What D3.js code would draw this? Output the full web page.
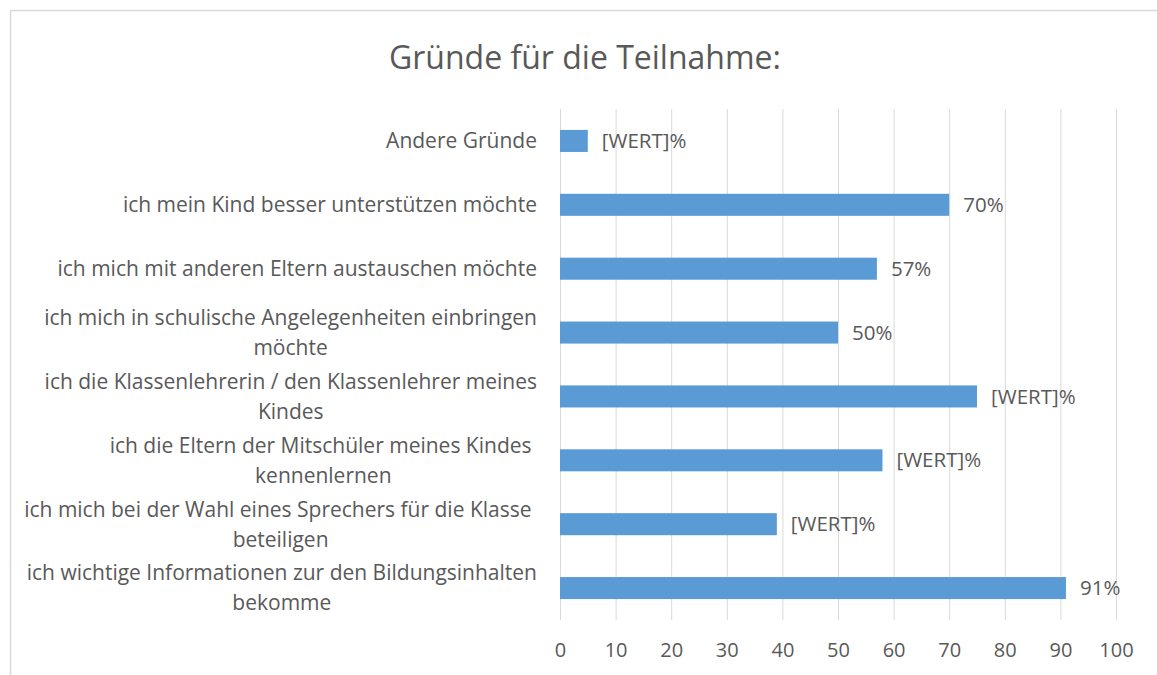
<!DOCTYPE html>
<html>
<head>
<meta charset="utf-8">
<script src="https://cdn.jsdelivr.net/npm/d3@7"></script>
<style>
  body { margin: 0; background: #fff; }
  text { font-family: "Open Sans", sans-serif; fill: #595959; }
</style>
</head>
<body>
<div id="chart"></div>
<script>
// chart data, top to bottom
var categories = [
    ["Andere Gründe"],
    ["ich mein Kind besser unterstützen möchte"],
    ["ich mich mit anderen Eltern austauschen möchte"],
    ["ich mich in schulische Angelegenheiten einbringen", "möchte"],
    ["ich die Klassenlehrerin / den Klassenlehrer meines", "Kindes"],
    ["ich die Eltern der Mitschüler meines Kindes ", "kennenlernen"],
    ["ich mich bei der Wahl eines Sprechers für die Klasse ", "beteiligen"],
    ["ich wichtige Informationen zur den Bildungsinhalten", "bekomme"]
];
var values = [5, 70, 57, 50, 75, 58, 39, 91];
var valueLabels = ["[WERT]%", "70%", "57%", "50%", "[WERT]%", "[WERT]%", "[WERT]%", "91%"];
var xTicks = [0, 10, 20, 30, 40, 50, 60, 70, 80, 90, 100];
var title = "Gründe für die Teilnahme:";

var W = 1157, H = 675;
var svg = d3.select("#chart")
    .append("svg")
    .attr("width", W)
    .attr("height", H);

// chart frame
svg.append("rect")
    .attr("x", 10.5).attr("y", 10.5)
    .attr("width", W).attr("height", H)
    .attr("fill", "#fff")
    .attr("stroke", "#d9d9d9")
    .attr("stroke-width", 1.5);

svg.append("text")
    .attr("x", 585).attr("y", 69)
    .attr("text-anchor", "middle")
    .style("font-size", "32px")
    .text(title);

var x = d3.scaleLinear().domain([0, 100]).range([560, 1116]);
var y = d3.scaleBand()
    .domain(d3.range(categories.length))
    .range([109, 620])
    .paddingInner(0.655)
    .paddingOuter(0.3275);

// gridlines
svg.append("g").selectAll("line")
    .data(xTicks)
    .join("line")
    .attr("x1", d => x(d) + 0.5).attr("x2", d => x(d) + 0.5)
    .attr("y1", 109).attr("y2", 620)
    .attr("stroke", "#d9d9d9")
    .attr("stroke-width", 1);

// x axis labels
var xAxis = svg.append("g")
    .attr("transform", "translate(0,620)")
    .call(d3.axisBottom(x).tickValues(xTicks).tickSize(0).tickPadding(23));
xAxis.select(".domain").remove();
xAxis.selectAll("text")
    .style("font-size", "20px")
    .style("font-family", "'Open Sans', sans-serif")
    .attr("fill", "#595959");

// bars
svg.append("g").selectAll("rect")
    .data(values)
    .join("rect")
    .attr("x", x(0))
    .attr("y", (d, i) => y(i))
    .attr("width", d => x(d) - x(0))
    .attr("height", y.bandwidth())
    .attr("fill", "#5b9bd5");

// value labels
svg.append("g").selectAll("text")
    .data(values)
    .join("text")
    .attr("x", d => x(d) + 14)
    .attr("y", (d, i) => y(i) + y.bandwidth() / 2)
    .attr("dy", "0.35em")
    .style("font-size", "20.5px")
    .text((d, i) => valueLabels[i]);

// category labels: block right-aligned, lines centred inside block
var lineH = 30;
var labelRight = 537;
categories.forEach(function(lines, i) {
    var cy = y(i) + y.bandwidth() / 2;
    var g = svg.append("g");
    var texts = lines.map(function(line, k) {
        return g.append("text")
            .attr("y", cy + (k - (lines.length - 1) / 2) * lineH)
            .attr("dy", "0.35em")
            .attr("xml:space", "preserve")
            .style("white-space", "pre")
            .style("font-size", "21px")
            .attr("text-anchor", "middle")
            .text(line);
    });
    var maxW = d3.max(texts, t => t.node().getComputedTextLength());
    texts.forEach(t => t.attr("x", labelRight - maxW / 2));
});
</script>
</body>
</html>
